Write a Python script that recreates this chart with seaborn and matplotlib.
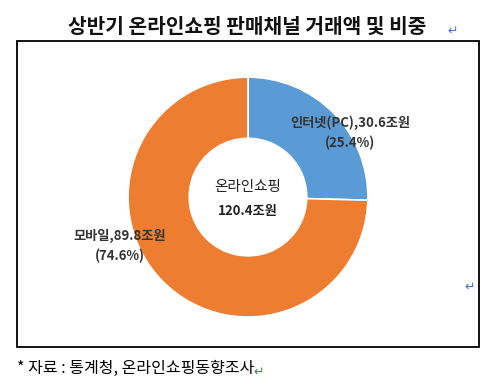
import seaborn as sns
import matplotlib.pyplot as plt
from matplotlib.patches import Rectangle

sns.set_theme(style="white")
plt.rcParams['font.family'] = ['Noto Sans CJK KR', 'DejaVu Sans']

# data
channels = ["인터넷(PC)", "모바일"]
amounts = [30.6, 89.8]          # 조원
shares = [25.4, 74.6]           # %
total_name = "온라인쇼핑"
total_amount = 120.4
colors = ["#5B9BD5", "#ED7D31"]

fig = plt.figure(figsize=(5.03, 3.85), dpi=100)
fig.patch.set_facecolor("white")

# frame around chart area
fig.add_artist(Rectangle((0.034, 0.099), 0.918, 0.795, transform=fig.transFigure,
                         fill=False, edgecolor="black", linewidth=1.3))

ax = fig.add_axes([0.2545, 0.1766, 0.477, 0.623])
ax.pie(amounts, colors=colors, startangle=90, counterclock=False,
       wedgeprops=dict(width=0.51, edgecolor="white", linewidth=1.2))
ax.set_xlim(-1, 1)
ax.set_ylim(-1, 1)
ax.set_aspect("equal")
ax.axis("off")

label_pos = [(0.85, 0.62), (-1.067, -0.325)]
for name, amt, sh, (x, y) in zip(channels, amounts, shares, label_pos):
    ax.text(x, y, f"{name},{amt}조원", ha="center", va="center",
            fontsize=9.5, fontweight="bold", color="#333333", clip_on=False)
    ax.text(x, y - 0.165, f"({sh}%)", ha="center", va="center",
            fontsize=9.5, fontweight="bold", color="#333333", clip_on=False)

ax.text(0, 0.085, total_name, ha="center", va="center", fontsize=10.5, color="#222222")
ax.text(0, -0.12, f"{total_amount}조원", ha="center", va="center",
        fontsize=9.5, fontweight="bold", color="#222222")

fig.text(0.491, 0.932, "상반기 온라인쇼핑 판매채널 거래액 및 비중", ha="center", va="center",
         fontsize=14.6, fontweight="bold", color="#111111")
fig.text(0.9, 0.918, "↵", ha="center", va="center", fontsize=9, color="#4472C4",
         family=['DejaVu Sans'])
fig.text(0.934, 0.255, "↵", ha="center", va="center", fontsize=9, color="#4472C4",
         family=['DejaVu Sans'])
fig.text(0.034, 0.043, "* 자료 : 통계청, 온라인쇼핑동향조사", ha="left", va="center",
         fontsize=11.5, color="black")
fig.text(0.515, 0.033, "↵", ha="center", va="center", fontsize=9, color="#4472C4",
         family=['DejaVu Sans'])

fig.savefig("out.png", dpi=100)
